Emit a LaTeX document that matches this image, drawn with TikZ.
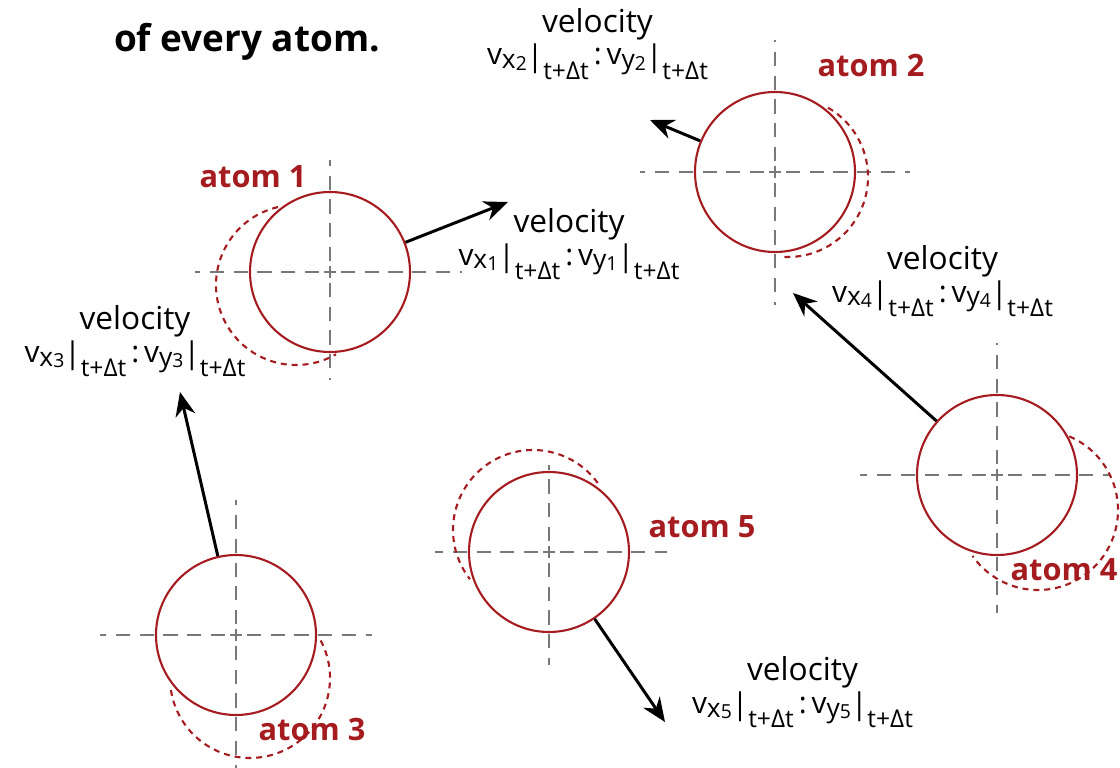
\documentclass[tikz,border=0pt]{standalone}
\usepackage{fontspec}
\setmainfont{Open Sans}
\usetikzlibrary{arrows.meta, calc}
\definecolor{atomred}{RGB}{165,28,32}
\definecolor{axisgray}{RGB}{120,120,120}
% one velocity component, e.g. v_{x1}|_{t+dt}
\newcommand{\vcomp}[2]{v\raisebox{-0.25ex}{\fontsize{15}{15}\selectfont #1\raisebox{-0.1ex}{\fontsize{11}{11}\selectfont #2}}\raisebox{-0.1ex}{|}\raisebox{-0.9ex}{\fontsize{14}{14}\selectfont t+Δt}}
\newcommand{\veleq}[1]{{\fontsize{17}{18.5}\selectfont\vcomp{x}{#1}\,:\,\vcomp{y}{#1}}}

\begin{document}
\begin{tikzpicture}[>={Stealth[length=4.8mm, width=4mm]},
  atom/.style={circle, draw=atomred, line width=1.2pt, minimum size=3.2cm, inner sep=0pt},
  ghost/.style={draw=atomred, line width=1.2pt, dash pattern=on 3.4pt off 2.8pt},
  axis/.style={draw=axisgray, line width=1.3pt, dash pattern=on 8pt off 5.5pt},
  vel/.style={->, line width=1.7pt},
  lbl/.style={font={\fontsize{18}{18.5}\selectfont\lineskiplimit=-20pt}, align=center, anchor=base, inner sep=0pt},
  atomlbl/.style={font=\fontsize{17.5}{20}\selectfont\bfseries, text=atomred, anchor=base, inner sep=0pt}]
  \useasboundingbox (0,0) rectangle (22.4,-15.36);

  \node[font=\fontsize{21}{24}\selectfont\bfseries, anchor=base] (title) at (4.94,-1.04) {of every atom.};

  % ===== atoms at time t =====
  \node[atom] (a1) at (6.6,-5.44) {};
  \node[atom] (a2) at (15.5,-3.44) {};
  \node[atom] (a3) at (4.72,-12.7) {};
  \node[atom] (a4) at (19.94,-9.5) {};
  \node[atom] (a5) at (10.98,-11.04) {};

  % ===== centre lines =====
  \foreach \n/\up/\dn/\lf/\rt in {1/2.24/2.16/2.7/2.64, 2/2.64/2.66/2.7/2.7,
      3/2.7/2.66/2.72/2.72, 4/2.64/2.76/2.74/2.26, 5/1.74/2.26/2.28/2.36}{
    \draw[axis] ($(a\n.center)+(0,0.22)$) -- ($(a\n.center)+(0,\up)$);
    \draw[axis] ($(a\n.center)-(0,0.22)$) -- ($(a\n.center)-(0,\dn)$);
    \draw[axis] ($(a\n.center)-(0.22,0)$) -- ($(a\n.center)-(\lf,0)$);
    \draw[axis] ($(a\n.center)+(0.22,0)$) -- ($(a\n.center)+(\rt,0)$);
    \draw[axisgray, line width=1.1pt] (a\n.center) +(-0.12,0) -- +(0.12,0) +(0,-0.12) -- +(0,0.12);
  }

  % ===== previous positions (dashed) =====
  \coordinate (g1) at (5.92,-5.70);
  \coordinate (g2) at (15.76,-3.54);
  \coordinate (g3) at (5.0,-13.56);
  \coordinate (g4) at (20.76,-10.2);
  \coordinate (g5) at (10.66,-10.6);
  \foreach \n/\s/\e in {1/103/300, 2/60/-96, 3/28/-173, 4/67/-145, 5/36/218}
    \draw[ghost] (g\n) ++(\s:1.6) arc[start angle=\s, end angle=\e, radius=1.6];

  % ===== velocity arrows =====
  \coordinate (t1) at (10.16,-4.04);
  \coordinate (t2) at (13.0,-2.4);
  \coordinate (t3) at (3.6,-7.84);
  \coordinate (t4) at (15.86,-5.86);
  \coordinate (t5) at (13.3,-14.44);
  \foreach \n in {1,...,5}
    \draw[vel] (a\n) -- (t\n);

  % ===== labels (base = second line) =====
  \node[lbl] (vel1) at (11.38,-5.3) {velocity\\\veleq{1}};
  \node[lbl] (vel2) at (11.95,-1.3) {velocity\\\veleq{2}};
  \node[lbl] (vel3) at (2.7,-7.24) {velocity\\\veleq{3}};
  \node[lbl] (vel4) at (18.85,-6.04) {velocity\\\veleq{4}};
  \node[lbl] (vel5) at (16.05,-14.26) {velocity\\\veleq{5}};

  \node[atomlbl] (n1) at (5.06,-3.74) {atom 1};
  \node[atomlbl] (n2) at (17.42,-1.54) {atom 2};
  \node[atomlbl] (n3) at (6.24,-14.8) {atom 3};
  \node[atomlbl] (n4) at (21.28,-11.6) {atom 4};
  \node[atomlbl] (n5) at (14.04,-10.74) {atom 5};
\end{tikzpicture}
\end{document}
